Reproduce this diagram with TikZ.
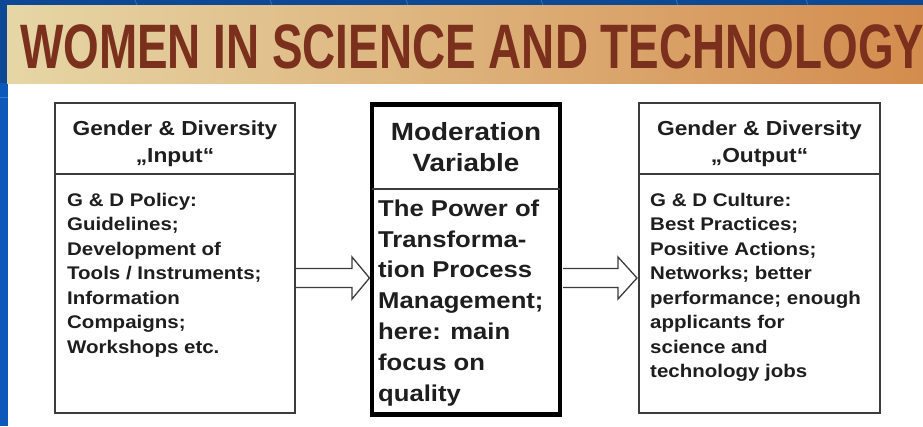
\documentclass[tikz,border=0pt]{standalone}
\usepackage{fontspec}
\newfontfamily\boxfont[FakeStretch=1.12]{Liberation Sans}
\newfontfamily\titlefont[FakeStretch=0.73]{Liberation Sans}
\usetikzlibrary{positioning,calc}

\definecolor{slideblue}{RGB}{12,72,148}
\definecolor{stripblue}{RGB}{14,88,186}
\definecolor{gridblue}{RGB}{60,120,200}
\definecolor{titlebrown}{RGB}{122,48,28}
\definecolor{bannerleft}{RGB}{230,214,166}
\definecolor{bannermid}{RGB}{240,210,140}
\definecolor{bannerright}{RGB}{212,140,78}
\definecolor{inkgray}{RGB}{30,30,30}
\definecolor{linegray}{RGB}{60,60,60}

\begin{document}
\begin{tikzpicture}[x=1pt,y=-1pt,
    gdbox/.style={draw=linegray, line width=2pt, fill=white, inner sep=0, outer sep=0,
        minimum width=240, minimum height=310},
    thickbox/.style={draw=black, line width=4.5pt, fill=white, inner sep=0, outer sep=0,
        minimum width=188, minimum height=310},
    divider/.style={draw=linegray, line width=1.8pt},
    headtext/.style={inner sep=0, align=center, text=inkgray,
        font=\boxfont\bfseries\fontsize{20.3}{27}\selectfont},
    bodytext/.style={inner sep=0, align=left, text=inkgray,
        font=\boxfont\bfseries\fontsize{18.3}{24.5}\selectfont},
    hollowarrow/.style={draw=linegray, line width=1.3pt, fill=white, line join=miter}]

\useasboundingbox (0,0) rectangle (923,426);

% slide background and banner
\fill[slideblue] (0,0) rectangle (923,426);
\fill[stripblue] (0,83) rectangle (8,426);
\fill[white] (8,83) rectangle (923,426);
\foreach \x in {135,270,406,541,676,806}
{
    \draw[gridblue, line width=0.6pt] (\x,0) -- (\x+2,5);
}
\draw[gridblue, line width=0.8pt] (0,97) -- (8,97);
\shade[left color=bannerleft, middle color=bannermid, right color=bannerright]
    (7,5) rectangle (923,83);
\node[anchor=base west, inner sep=0, text=titlebrown,
    font=\titlefont\bfseries\fontsize{62.8}{70}\selectfont]
    (title) at (20,68) {WOMEN IN SCIENCE AND TECHNOLOGY};

% the three boxes
\node[gdbox] (inbox) at (175,258) {};
\node[thickbox] (modbox) at (466,259.5) {};
\node[gdbox, minimum width=241] (outbox) at (759.5,258) {};

\draw[divider] ($(inbox.north west)+(0,71)$) -- ($(inbox.north east)+(0,71)$);
\draw[divider] ($(modbox.north west)+(0,84.5)$) -- ($(modbox.north east)+(0,84.5)$);
\draw[divider] ($(outbox.north west)+(0,71)$) -- ($(outbox.north east)+(0,71)$);

% box texts
\node[headtext, below=17.5pt of inbox.north] (inhead) {Gender \& Diversity\\„Input“};
\node[bodytext, below right=90pt and 12pt of inbox.north west] (inbody)
    {G \& D Policy:\\Guidelines;\\Development of\\Tools / Instruments;\\Information\\Compaigns;\\Workshops etc.};

\node[headtext, below=18.2pt of modbox.north,
    font=\boxfont\bfseries\fontsize{24.9}{31}\selectfont] (modhead) {Moderation\\Variable};
\node[bodytext, below right=95pt and 6pt of modbox.north west,
    font=\boxfont\bfseries\fontsize{22.9}{30.8}\selectfont] (modbody)
    {The Power of\\Transforma-\\tion Process\\Management;\\here: main\\focus on\\quality};

\node[headtext, below=17.5pt of outbox.north] (outhead) {Gender \& Diversity\\„Output“};
\node[bodytext, below right=90pt and 11pt of outbox.north west] (outbody)
    {G \& D Culture:\\Best Practices;\\Positive Actions;\\Networks; better\\performance; enough\\applicants for\\science and\\technology jobs};

% hollow arrows
\draw[hollowarrow] ($(inbox.east)+(1,10.5)$) -- ++(56,0) -- ++(0,-11.5)
    -- ($(modbox.west)+(-2.5,18.5)$) -- ($(inbox.east)+(57,41)$) -- ++(0,-11.5)
    -- ($(inbox.east)+(1,29.5)$);
\draw[hollowarrow] ($(modbox.east)+(3,9)$) -- ++(55,0) -- ++(0,-11.5)
    -- ($(outbox.west)+(-2,20)$) -- ($(modbox.east)+(58,39.5)$) -- ++(0,-11.5)
    -- ($(modbox.east)+(3,28)$);

\end{tikzpicture}
\end{document}
